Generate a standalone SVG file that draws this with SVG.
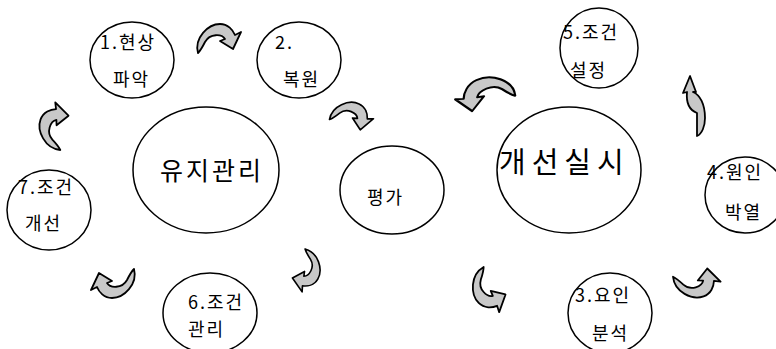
<svg xmlns="http://www.w3.org/2000/svg" xmlns:xlink="http://www.w3.org/1999/xlink" width="776" height="349" viewBox="0 0 776 349">
<style>
.node{fill:#fff;stroke:#000;stroke-width:1.5}
.t{font-family:"Noto Sans CJK KR","Liberation Sans",sans-serif;font-size:18px;fill:#000;letter-spacing:2px}
.big{font-family:"Noto Sans CJK KR","Liberation Sans",sans-serif;fill:#000}
.arrow{fill:#c8c8c8;stroke:#000;stroke-width:1.8;stroke-linejoin:round}
</style>
<defs>
<path id="ca" d="M -18,9 C -22,-6 -8,-20 4,-20 C 12,-20 17,-14 19,-9 L 25,-12 L 17,5 L 4,-3 L 9,-5 C 6,-10 -6,-11 -11,-2 C -13,2 -15,6 -18,9 Z"/>
</defs>
<rect width="776" height="349" fill="#fff"/>
<g id="n1"><ellipse class="node" cx="132" cy="60" rx="42" ry="38"/><text class="t" x="100" y="49" letter-spacing="1">1.현상</text><text class="t" x="113" y="86" letter-spacing="4">파악</text></g>
<g id="n2"><ellipse class="node" cx="299" cy="60" rx="42" ry="38"/><text class="t" x="275" y="49">2.</text><text class="t" x="283" y="86" letter-spacing="4">복원</text></g>
<g id="n5"><ellipse class="node" cx="599" cy="48" rx="39" ry="40"/><text class="t" x="563" y="39" font-size="19" letter-spacing="6">5.조건</text><text class="t" x="570" y="77" letter-spacing="6">설정</text></g>
<g id="hub1"><ellipse class="node" cx="206" cy="170" rx="73" ry="63"/><text class="big" x="160" y="180" font-size="25" letter-spacing="3">유지관리</text></g>
<g id="eval"><ellipse class="node" cx="392" cy="190" rx="52" ry="44"/><text class="t" x="367" y="204" letter-spacing="6">평가</text></g>
<g id="hub2"><ellipse class="node" cx="569" cy="170" rx="72" ry="63"/><text class="big" x="499" y="173" font-size="29" letter-spacing="6">개선실시</text></g>
<g id="n7"><ellipse class="node" cx="49" cy="210" rx="42" ry="40"/><text class="t" x="18" y="194" letter-spacing="2">7.조건</text><text class="t" x="25" y="230" letter-spacing="3">개선</text></g>
<g id="n6"><ellipse class="node" cx="210" cy="313" rx="47" ry="40"/><text class="t" x="188" y="309" font-size="17" letter-spacing="3">6.조건</text><text class="t" x="188" y="336" font-size="17" letter-spacing="5">관리</text></g>
<g id="n3"><ellipse class="node" cx="610" cy="313" rx="42" ry="40"/><text class="t" x="575" y="302" letter-spacing="3">3.요인</text><text class="t" x="592" y="340" letter-spacing="3">분석</text></g>
<g id="n4"><ellipse class="node" cx="745" cy="195" rx="40" ry="38"/><text class="t" x="707" y="179" letter-spacing="4">4.원인</text><text class="t" x="725" y="219" letter-spacing="5">박열</text></g>
<g id="connectors">
<use xlink:href="#ca" class="arrow" transform="translate(216,44)"/>
<use xlink:href="#ca" class="arrow" transform="translate(348,119) rotate(25) scale(0.92)"/>
<use xlink:href="#ca" class="arrow" transform="translate(58,130) rotate(-70)"/>
<use xlink:href="#ca" class="arrow" transform="translate(116,278) rotate(180)"/>
<use xlink:href="#ca" class="arrow" transform="translate(304,267) rotate(120) scale(0.9)"/>
<use xlink:href="#ca" class="arrow" transform="translate(490,97) rotate(-25) scale(-1.3,1.05)"/>
<path class="arrow" d="M 690,76 L 683,93 L 687,92 C 686,103 689,110 697,113 L 697,136 C 702,134 705,126 705,118 C 705,104 700,95 693,92 L 696,92 Z"/>
<use xlink:href="#ca" class="arrow" transform="translate(490,286) rotate(-45) matrix(0,1,1,0,0,0)"/>
<use xlink:href="#ca" class="arrow" transform="translate(693,279) rotate(-20) scale(1,-1)"/>
</g>
</svg>
